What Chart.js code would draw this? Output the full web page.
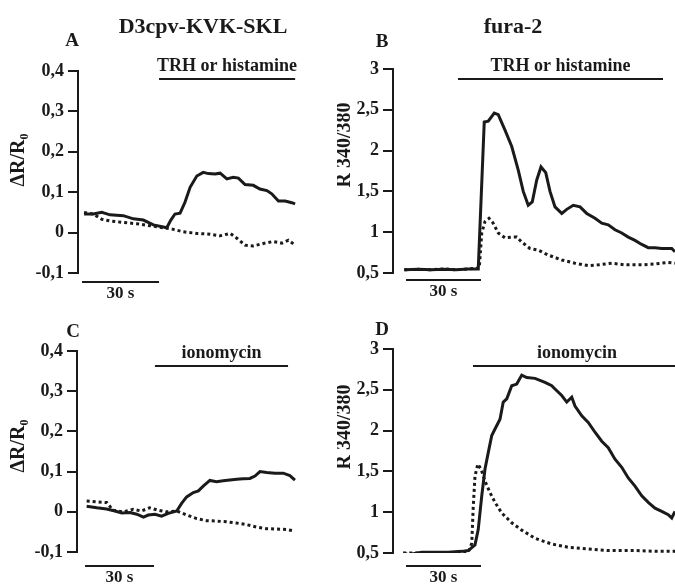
<!DOCTYPE html>
<html>
<head>
<meta charset="utf-8">
<script src="https://cdn.jsdelivr.net/npm/chart.js@4"></script>
<style>
    body { margin: 0; background: #fff; }
    #wrap { position: relative; width: 675px; height: 585px; overflow: hidden; }
    canvas { position: absolute; }
</style>
</head>
<body>
<div id="wrap">
    <canvas id="panelA" width="337" height="300" style="left:0;top:0"></canvas>
    <canvas id="panelB" width="338" height="300" style="left:337px;top:0"></canvas>
    <canvas id="panelC" width="337" height="285" style="left:0;top:300px"></canvas>
    <canvas id="panelD" width="338" height="285" style="left:337px;top:300px"></canvas>
</div>
<script>
// Panel A - D3cpv-KVK-SKL, TRH or histamine (time in s)
const aTimeSolid = [0.8, 4.4, 7.7, 10.9, 16.1, 20.0, 23.9, 27.8, 31.7, 33.0, 34.6, 36.2, 38.2, 40.1, 42.1, 44.7, 47.2, 49.2, 51.8, 53.8, 56.4, 58.9, 60.9, 63.5, 66.7, 69.3, 72.0, 73.9, 76.5, 79.1, 81.7, 83.0];
const aSolid = [0.046, 0.046, 0.050, 0.044, 0.042, 0.034, 0.031, 0.019, 0.014, 0.012, 0.031, 0.046, 0.048, 0.075, 0.112, 0.140, 0.149, 0.146, 0.145, 0.147, 0.133, 0.137, 0.135, 0.119, 0.117, 0.108, 0.104, 0.096, 0.078, 0.078, 0.074, 0.071];
const aTimeDotted = [0.8, 4.4, 7.7, 10.9, 16.1, 21.3, 26.5, 31.7, 35.6, 39.4, 44.7, 49.9, 53.8, 57.7, 60.3, 63.5, 66.7, 70.6, 74.5, 77.8, 80.4, 83.0];
const aDotted = [0.050, 0.046, 0.033, 0.029, 0.025, 0.022, 0.017, 0.012, 0.008, 0.002, -0.002, -0.004, -0.008, -0.002, -0.014, -0.031, -0.033, -0.027, -0.022, -0.026, -0.019, -0.031];

// Panel B - fura-2, TRH or histamine
const bTimeSolid = [-0.7, 5, 10, 15, 20, 25, 28.9, 31.3, 32.9, 35.3, 36.9, 39.6, 42.3, 44.9, 46.9, 48.9, 50.5, 52.3, 54.0, 55.9, 57.6, 59.6, 62.3, 64.3, 66.9, 69.6, 72.3, 75.6, 78.3, 80.9, 83.6, 86.3, 88.9, 91.6, 94.3, 96.9, 99.6, 102.3, 106.3, 107.6];
const bSolid = [0.54, 0.545, 0.54, 0.545, 0.54, 0.55, 0.55, 2.35, 2.36, 2.46, 2.44, 2.25, 2.05, 1.76, 1.50, 1.33, 1.37, 1.64, 1.80, 1.73, 1.50, 1.31, 1.23, 1.28, 1.33, 1.31, 1.23, 1.17, 1.11, 1.09, 1.03, 0.99, 0.94, 0.90, 0.85, 0.81, 0.81, 0.80, 0.80, 0.76];
const bTimeDotted = [-0.7, 5, 10, 15, 20, 25, 29.3, 30.3, 31.6, 33.2, 34.9, 36.9, 39.6, 42.3, 44.3, 46.3, 49.6, 52.9, 56.9, 62.3, 67.6, 72.9, 76.9, 82.3, 87.6, 94.3, 99.6, 104.9, 107.6];
const bDotted = [0.54, 0.545, 0.54, 0.55, 0.54, 0.55, 0.56, 0.99, 1.13, 1.17, 1.11, 0.99, 0.93, 0.94, 0.94, 0.88, 0.80, 0.78, 0.72, 0.66, 0.62, 0.59, 0.60, 0.62, 0.60, 0.60, 0.61, 0.63, 0.62];

// Panel C - D3cpv-KVK-SKL, ionomycin
const cTimeSolid = [0.7, 5.1, 9.4, 13.0, 16.0, 19.6, 22.5, 25.4, 27.5, 30.4, 33.3, 36.2, 39.9, 42.0, 44.2, 47.1, 49.3, 51.4, 54.3, 57.2, 60.1, 63.0, 66.0, 68.8, 71.7, 73.9, 76.1, 79.0, 82.6, 86.2, 89.1, 91.3];
const cSolid = [0.014, 0.010, 0.007, 0.002, -0.003, -0.002, -0.006, -0.013, -0.008, -0.006, -0.011, -0.004, 0.002, 0.021, 0.037, 0.048, 0.052, 0.064, 0.078, 0.075, 0.077, 0.079, 0.081, 0.082, 0.083, 0.089, 0.100, 0.098, 0.096, 0.096, 0.090, 0.079];
const cTimeDotted = [0.7, 5.1, 9.4, 12.2, 16.5, 20.9, 24.5, 28.1, 31.7, 35.3, 39.9, 44.2, 48.6, 52.9, 57.2, 61.6, 65.9, 70.3, 74.6, 79.0, 83.3, 87.7, 91.3];
const cDotted = [0.027, 0.025, 0.023, 0.004, 0.000, 0.006, 0.002, 0.010, 0.004, 0.000, 0.002, -0.008, -0.017, -0.022, -0.023, -0.025, -0.028, -0.032, -0.038, -0.042, -0.043, -0.044, -0.048];

// Panel D - fura-2, ionomycin
const dTimeSolid = [-1.1, 0.9, 6.3, 11.6, 16.9, 22.3, 24.9, 27.6, 28.9, 30.3, 31.6, 32.9, 34.3, 35.6, 37.6, 38.9, 40.3, 42.3, 44.3, 46.3, 48.3, 51.6, 55.6, 58.3, 59.6, 62.3, 64.3, 66.3, 67.6, 70.3, 72.9, 75.6, 78.3, 80.9, 83.6, 86.3, 88.9, 91.6, 94.3, 96.9, 99.6, 102.3, 104.9, 106.3, 107.6];
const dSolid = [0.50, 0.48, 0.51, 0.51, 0.51, 0.52, 0.53, 0.60, 0.79, 1.20, 1.53, 1.73, 1.94, 2.02, 2.14, 2.35, 2.39, 2.55, 2.57, 2.68, 2.65, 2.64, 2.59, 2.55, 2.51, 2.43, 2.35, 2.41, 2.30, 2.18, 2.10, 1.98, 1.87, 1.79, 1.65, 1.55, 1.42, 1.32, 1.20, 1.12, 1.05, 1.01, 0.97, 0.93, 1.01];
const dTimeDotted = [-1.1, 11.6, 24.9, 26.3, 26.9, 27.6, 28.7, 30.0, 31.6, 33.6, 35.6, 38.3, 42.3, 46.3, 51.6, 58.3, 65.0, 72.9, 80.9, 91.6, 99.6, 107.6];
const dDotted = [0.50, 0.50, 0.51, 0.62, 1.07, 1.44, 1.59, 1.53, 1.38, 1.24, 1.12, 0.99, 0.87, 0.78, 0.68, 0.61, 0.57, 0.55, 0.53, 0.53, 0.52, 0.52];

// Axis ticks
const ratioTicks = [-0.1, 0, 0.1, 0.2, 0.3, 0.4];
const furaTicks = [0.5, 1, 1.5, 2, 2.5, 3];

const INK = '#1a1a1a';
const SERIF = '"Liberation Serif", "Times New Roman", serif';

function toPoints(times, values) {
    return times.map((t, i) => ({ x: t, y: values[i] }));
}

function tickLabel(value) {
    const v = Math.round(value * 10) / 10;
    if (Number.isInteger(v)) return String(v);
    return v.toFixed(1).replace('.', ',');
}

// Draws panel letter, header, y title, stimulus bar and 30 s scale bar
const annotations = {
    id: 'annotations',
    afterDraw(chart, args, opts) {
        const ctx = chart.ctx;
        const xs = chart.scales.x;
        ctx.save();
        ctx.fillStyle = INK;
        ctx.strokeStyle = INK;
        ctx.textAlign = 'center';
        ctx.textBaseline = 'middle';

        if (opts.header) {
            ctx.font = 'bold 22px ' + SERIF;
            ctx.fillText(opts.header.text, opts.header.x, opts.header.y);
        }
        ctx.font = 'bold 19px ' + SERIF;
        ctx.fillText(opts.letter.text, opts.letter.x, opts.letter.y);

        // rotated y axis title
        ctx.save();
        ctx.translate(opts.yTitle.x, opts.yTitle.y);
        ctx.rotate(-Math.PI / 2);
        ctx.font = 'bold 20px ' + SERIF;
        ctx.fillText(opts.yTitle.text, 0, 0);
        ctx.restore();

        // stimulus bar
        const s0 = xs.getPixelForValue(opts.stim[0]);
        const s1 = xs.getPixelForValue(opts.stim[1]);
        ctx.lineWidth = 2;
        ctx.beginPath();
        ctx.moveTo(s0, opts.stimY);
        ctx.lineTo(s1, opts.stimY);
        ctx.stroke();
        ctx.font = 'bold 18px ' + SERIF;
        ctx.fillText(opts.stimLabel, (s0 + s1) / 2, opts.stimY - 13);

        // time scale bar
        const t0 = xs.getPixelForValue(0);
        const t1 = xs.getPixelForValue(30);
        ctx.beginPath();
        ctx.moveTo(t0, opts.scaleY);
        ctx.lineTo(t1, opts.scaleY);
        ctx.stroke();
        ctx.font = 'bold 17px ' + SERIF;
        ctx.fillText('30 s', (t0 + t1) / 2, opts.scaleY + 12);
        ctx.restore();
    }
};

function makePanel(cfg) {
    const ctx = document.getElementById(cfg.id).getContext('2d');
    return new Chart(ctx, {
        type: 'line',
        data: {
            datasets: [
                {
                    data: toPoints(cfg.timeSolid, cfg.solid),
                    borderColor: INK,
                    borderWidth: 3,
                    pointRadius: 0,
                    tension: 0
                },
                {
                    data: toPoints(cfg.timeDotted, cfg.dotted),
                    borderColor: INK,
                    borderWidth: 3,
                    borderDash: [3, 3],
                    pointRadius: 0,
                    tension: 0
                }
            ]
        },
        options: {
            responsive: false,
            animation: false,
            devicePixelRatio: 1,
            layout: { padding: cfg.padding },
            plugins: {
                legend: { display: false },
                tooltip: { enabled: false },
                annotations: cfg.notes
            },
            scales: {
                x: { type: 'linear', display: false, min: cfg.xMin, max: cfg.xMax },
                y: {
                    min: cfg.ticks[0],
                    max: cfg.ticks[cfg.ticks.length - 1],
                    afterBuildTicks: scale => {
                        scale.ticks = cfg.ticks.map(v => ({ value: v }));
                    },
                    afterFit: scale => { scale.width = cfg.axisX; },
                    grid: { drawOnChartArea: false, drawTicks: true, tickLength: 10, lineWidth: 2, color: INK },
                    border: { display: true, width: 2, color: INK },
                    ticks: {
                        padding: 4,
                        color: INK,
                        font: { family: SERIF, size: 18, weight: 'bold' },
                        callback: v => tickLabel(v)
                    }
                }
            }
        },
        plugins: [annotations]
    });
}

makePanel({
    id: 'panelA', axisX: 78, xMin: -1.56, xMax: 84.9,
    padding: { top: 71, bottom: 27, left: 0, right: 37 },
    ticks: ratioTicks,
    timeSolid: aTimeSolid, solid: aSolid, timeDotted: aTimeDotted, dotted: aDotted,
    notes: {
        header: { text: 'D3cpv-KVK-SKL', x: 203, y: 27 },
        letter: { text: 'A', x: 72, y: 41 },
        yTitle: { text: 'ΔR/R₀', x: 19, y: 160 },
        stim: [30, 83], stimY: 79, stimLabel: 'TRH or histamine', scaleY: 282
    }
});

makePanel({
    id: 'panelB', axisX: 56, xMin: -5.2, xMax: 107.6,
    padding: { top: 69, bottom: 27, left: 0, right: 0 },
    ticks: furaTicks,
    timeSolid: bTimeSolid, solid: bSolid, timeDotted: bTimeDotted, dotted: bDotted,
    notes: {
        header: { text: 'fura-2', x: 176, y: 27 },
        letter: { text: 'B', x: 45, y: 42 },
        yTitle: { text: 'R 340/380', x: 8, y: 145 },
        stim: [20.8, 102.8], stimY: 79, stimLabel: 'TRH or histamine', scaleY: 280
    }
});

makePanel({
    id: 'panelC', axisX: 77, xMin: -3.5, xMax: 93.5,
    padding: { top: 51, bottom: 33, left: 0, right: 37 },
    ticks: ratioTicks,
    timeSolid: cTimeSolid, solid: cSolid, timeDotted: cTimeDotted, dotted: cDotted,
    notes: {
        letter: { text: 'C', x: 73, y: 32 },
        yTitle: { text: 'ΔR/R₀', x: 19, y: 146 },
        stim: [30.4, 88.3], stimY: 66, stimLabel: 'ionomycin', scaleY: 266
    }
});

makePanel({
    id: 'panelD', axisX: 56, xMin: -5.2, xMax: 107.6,
    padding: { top: 49, bottom: 32, left: 0, right: 0 },
    ticks: furaTicks,
    timeSolid: dTimeSolid, solid: dSolid, timeDotted: dTimeDotted, dotted: dDotted,
    notes: {
        letter: { text: 'D', x: 45, y: 30 },
        yTitle: { text: 'R 340/380', x: 8, y: 127 },
        stim: [26.8, 110], stimY: 66, stimLabel: 'ionomycin', scaleY: 266
    }
});
</script>
</body>
</html>
